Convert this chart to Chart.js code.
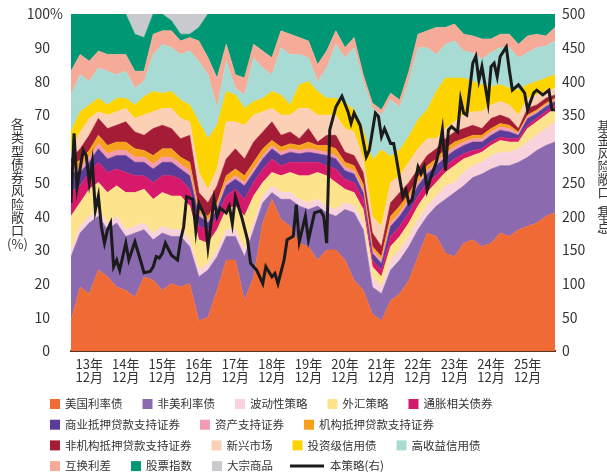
<!DOCTYPE html>
<html lang="zh">
<head>
<meta charset="UTF-8">
<title>各类型债券风险敞口</title>
<script src="https://cdn.jsdelivr.net/npm/chart.js"></script>
<style>
  html, body { margin: 0; padding: 0; background: #fff; }
  #wrap { width: 607px; height: 474px; position: relative; }
</style>
</head>
<body>
<div id="wrap"><canvas id="myChart"></canvas></div>
<script>
// months counted from Jan 2013 (= 0); bands are read every quarter
const areaMonths = [5,8,11,14,17,20,23,26,29,32,35,38,41,44,47,50,53,56,59,62,65,68,71,74,77,80,83,86,89,92,95,98,101,104,107,110,113,116,119,122,125,128,131,134,137,140,143,146,149,152,155,158,161,164];

// upper edge of every band, cumulative % (bottom band first)
const usRatesTop = [9,19,17,24,22,19,18,16,22,21, 18,20,19,20,9,10,18,27,27,15, 22,38,45,39,37,32,31,27,30,30, 27,21,18,11,9,15,17,21,28,35, 34,29,28,32,33,31,32,35,34,36, 37,38,40,41];
const nonUsRatesTop = [28,35,38,40,36,38,34,35,36,33, 35,34,34,31,22,24,28,34,34,28, 36,44,47,45,45,43,42,43,41,40, 42,41,36,19,17,24,27,31,36,40, 43,45,47,49,51.5,52.5,54,55,55,56, 57.5,59.5,61,62];
const volatilityTop = [30,37,40,42,38,40,36,37,38,35, 37,36,36,33,24,26,30,36,36,30, 38,46,49,47,47,45,44,45,43,42, 44,43,38,22,19,27,30,34,39,43, 46,49,50,53,55,56,58,59,59,60, 62,64,66,68];
const fxTop = [40,44,48,50,47,49,47,47,48,45, 47,46,46,43,33,32,36,42,43,40, 46,50,53,52,53,52,52,53,52,50, 48,47,42,25,22,31,34,38,43,47, 50,53,55,57,58,59,61,62.5,62,62, 66,68,70,72];
const inflationTop = [47,49,53,56,53,54,53,52,52,50, 52,52,51,48,37,36,40,46,48,45, 50,54,57,55,56,56,56,56,55,54, 51,50,45,27,24,34,37,41,46,50, 52,55,57,58.5,59.5,60,62,63.5,63,63, 67,69,71,73];
const cmbsTop = [53,53,56,60,57,58,58,56,56,54, 56,56,54,52,40,38,42,49,51,49, 53,57,60,58,59,58.5,59,58.5,58,57, 53.5,52.5,47,29,26,37,40,44,49,52.5, 55,57.5,59.5,61,62,62,64,65.5,65,64, 69,70.5,72.5,74];
const absTop = [54,54.5,57.5,61.5,58.5,59.5,59.5,57.5,57.5,55.5, 57.5,57.5,55.5,53.5,41,39,43,50,52,50, 54,58,61,59,60,59.5,60,59.5,59,58, 54.5,53.5,48,30,27,38,41,45,50,53.5, 56,58.5,60.5,62,63,63,65,66.5,66,64.5, 69.5,71,73,74.5];
const agencyMbsTop = [55.5,56.5,59.5,64,61,62,62,60,59.5,58, 60,60,57.5,56,42,40,44,52,54,52, 56,60,62.5,60.5,61.5,61,62,61,61,60, 56,55,49.5,31,28,40,43,46.5,51.5,55, 57,60,62,63,64,64,66,67.5,67,65, 70,71.5,73.5,75];
const nonAgencyMbsTop = [57,60,64,69,66,67,68,65,64,66, 67,66,63,64,47,44,49,57,60,57, 62,65,68,64,65,63,66,62,64,64, 59,58,53,35,31,44,47,50,54,58, 60,63,65,66,67,66,69,70,69,66, 72,73,75,76];
const emTop = [59,65,69,71,70,71,72,69,70,71, 72,72,69,68,53,48,54,68,68,67, 70,71,72,70,70,72,72,70,70,70, 66,65,57,40,37,50,52,56,60,63, 63,66,68,70,71,71,73,74,73,70, 75,76,77,78];
const igCreditTop = [65,71,73,75,73,75,75,73,75.5,77, 76.5,77,74.5,73,68,63,67,77,76,72, 74,75,77,76,73,79,80,77,75,75, 73.5,71.6,65.6,56.7,59.7,57.7,59.7,63.7,68.6,71.6, 77,81,81,81,80,79,78.5,79,78,77.5, 79,80,81,82];
const hyCreditTop = [76,82,80,84,83,82,83,78,80,88, 91,90,88,89,86,82,72,86,78,76, 87,84,82,90,88,88,87,80,84,91, 87,90,80,72,70,74.5,72.5,80,90,90, 88,91,92,89,88.5,86.6,88.6,90,90,87, 88.5,90,90.5,92];
const swapSpreadTop = [83,88,86,89,88,88,88,83,83,94, 95,95,92,93,92,87,81,91,82,81, 91,89,87,95,94,93,92,85,89,95, 90,93,82,73.6,71.5,76.5,74.5,83,94,95, 96,96,97,94,93.5,92.6,92.6,94,94,91, 93.5,94,93.5,96];
const equityTop = [100,100,100,100,100,100,100,94,93,100, 100,98,94,94,96,100,100,100,100,100, 100,100,100,100,100,100,100,100,100,100, 100,100,100,100,100,100,100,100,100,100, 100,100,100,100,100,100,100,100,100,100, 100,100,100,100];
const commodityTop = [100,100,100,100,100,100,100,100,100,100, 100,100,100,100,100,100,100,100,100,100, 100,100,100,100,100,100,100,100,100,100, 100,100,100,100,100,100,100,100,100,100, 100,100,100,100,100,100,100,100,100,100, 100,100,100,100];

// 本策略 risk exposure (bp, right axis)
const strategyMonths = [5,6,7,9,10,11,12,13,14,15, 16,17,18,19,20,21,23,24,26,28, 29,31,32,33,34,35,36,38,40,41, 42,43,45,46,47,49,50,52,53,54, 56,57,58,59,61,63,64,66,68,69, 71,72,73,75,76,78,79,80,82,83, 85,87,88,89,90,92,94,96,97,98, 100,102,103,105,106,107,108,110,111,112, 114,115,116,117,119,120,121,122,123,125, 126,127,128,129,130,132,133,134,135,137, 138,139,140,142,143,144,145,146,148,149, 150,152,154,155,157,158,160,162,163,164];
const strategyBp = [220,323,243,298,290,250,280,209,230,184, 160,180,190,125,135,120,160,135,162,132, 116,118,125,140,138,145,160,142,135,165, 184,229,225,179,219,200,154,225,200,212, 205,215,189,229,200,165,130,120,100,125, 110,115,100,135,165,170,217,162,200,165, 205,208,200,160,328,362,378,355,338,353, 335,288,298,353,348,318,330,308,308,283, 229,239,219,224,273,263,273,239,255,280, 300,328,268,328,333,325,373,353,350,427, 437,402,422,368,422,427,407,437,451,417, 387,395,383,358,383,387,380,387,358,358];

const tickMonths = [11,23,35,47,59,71,83,95,107,119,131,143,155];
const tickYears = ['13年','14年','15年','16年','17年','18年','19年','20年','21年','22年','23年','24年','25年'];
const tickMonthLabel = '12月';

const seriesNames = ['美国利率债','非美利率债','波动性策略','外汇策略','通胀相关债券','商业抵押贷款支持证券','资产支持证券','机构抵押贷款支持证券','非机构抵押贷款支持证券','新兴市场','投资级信用债','高收益信用债','互换利差','股票指数','大宗商品'];
const seriesColors = ['#f06a35','#8b6aaf','#f8d3de','#fee38d','#d6196a','#5c3c99','#f29bb2','#f6a21e','#a51c36','#fbd0b5','#fdd400','#a8dbd4','#f5ab98','#009874','#c9cacd'];
const seriesTops = [usRatesTop, nonUsRatesTop, volatilityTop, fxTop, inflationTop, cmbsTop, absTop, agencyMbsTop, nonAgencyMbsTop, emTop, igCreditTop, hyCreditTop, swapSpreadTop, equityTop, commodityTop];
const lineName = '本策略(右)';

const leftTitle = ['各','类','型','债','券','风','险','敞','口'];
const rightTitle = ['基','金','风','险','敞','口','︵','基','点','︶'];
const legendRows = [[0,1,2,3,4],[5,6,7],[8,9,10,11],[12,13,14,15]];

const FONT = '"Noto Sans CJK SC", "Noto Sans", sans-serif';

const datasets = seriesTops.map(function (tops, k) {
    return {
        label: seriesNames[k],
        data: areaMonths.map(function (m, i) { return {x: m, y: tops[i]}; }),
        yAxisID: 'y',
        backgroundColor: seriesColors[k],
        borderColor: seriesColors[k],
        borderWidth: 0.6,
        pointRadius: 0,
        tension: 0,
        fill: k === 0 ? 'origin' : '-1',
        order: 1
    };
});
datasets.push({
    label: lineName,
    data: strategyMonths.map(function (m, i) { return {x: m, y: strategyBp[i]}; }),
    yAxisID: 'y1',
    borderColor: '#1b1b1b',
    backgroundColor: '#1b1b1b',
    borderWidth: 3,
    pointRadius: 0,
    tension: 0,
    fill: false,
    order: -1
});

// vertical titles, the % after 100 and the legend
const extras = {
    id: 'extras',
    afterDraw: function (chart) {
        const ctx = chart.ctx;
        const yL = chart.scales.y;
        ctx.save();
        ctx.fillStyle = '#333';
        ctx.font = '14px ' + FONT;
        ctx.textAlign = 'left';
        ctx.textBaseline = 'middle';
        ctx.fillText('%', 50, yL.getPixelForValue(100));

        ctx.font = '13px ' + FONT;
        ctx.textAlign = 'center';
        let y = 124;
        leftTitle.forEach(function (ch) { ctx.fillText(ch, 17.5, y); y += 13.3; });
        ctx.fillText('(%)', 17.5, y);

        y = 126;
        rightTitle.forEach(function (ch) {
            const small = ch === '︵' || ch === '︶';
            if (small) y -= 3;
            ctx.fillText(ch, 604, y);
            y += small ? 10 : 13.3;
        });

        // legend
        ctx.font = '11.5px ' + FONT;
        ctx.textAlign = 'left';
        legendRows.forEach(function (row, r) {
            let x = 50;
            const cy = 404 + r * 20.7;
            row.forEach(function (idx) {
                let name;
                if (idx < seriesNames.length) {
                    ctx.fillStyle = seriesColors[idx];
                    ctx.fillRect(x, cy - 5, 10, 10);
                    x += 15;
                    name = seriesNames[idx];
                } else {
                    ctx.strokeStyle = '#1b1b1b';
                    ctx.lineWidth = 3;
                    ctx.beginPath();
                    ctx.moveTo(x - 3, cy);
                    ctx.lineTo(x + 31, cy);
                    ctx.stroke();
                    x += 37;
                    name = lineName;
                }
                ctx.fillStyle = '#333';
                ctx.fillText(name, x, cy);
                x += ctx.measureText(name).width + 20;
            });
        });
        ctx.restore();
    }
};

const ctx = document.getElementById('myChart').getContext('2d');
const myChart = new Chart(ctx, {
    type: 'line',
    data: { datasets: datasets },
    plugins: [extras],
    options: {
        responsive: true,
        maintainAspectRatio: false,
        animation: false,
        events: [],
        layout: { padding: { top: 14, left: 0, right: 0, bottom: 0 } },
        plugins: {
            legend: { display: false },
            tooltip: { enabled: false },
            filler: { propagate: false }
        },
        scales: {
            x: {
                type: 'linear',
                min: 5,
                max: 164,
                afterBuildTicks: function (scale) {
                    scale.ticks = tickMonths.map(function (v) { return {value: v}; });
                },
                afterFit: function (scale) { scale.height = 123; },
                grid: { display: false, drawTicks: false },
                border: { display: true, color: '#5a3325', width: 2 },
                ticks: {
                    autoSkip: false,
                    maxRotation: 0,
                    padding: 6,
                    color: '#333',
                    font: { family: FONT, size: 13, lineHeight: 1.05 },
                    callback: function (v) {
                        const i = tickMonths.indexOf(v);
                        return i < 0 ? '' : [tickYears[i], tickMonthLabel];
                    }
                }
            },
            y: {
                position: 'left',
                min: 0,
                max: 100,
                afterFit: function (scale) { scale.width = 71; },
                grid: { display: false, drawTicks: true, tickLength: 19 },
                border: { display: false },
                ticks: {
                    stepSize: 10,
                    padding: 2,
                    color: '#333',
                    font: { family: FONT, size: 14 },
                    callback: function (v) { return String(v); }
                }
            },
            y1: {
                position: 'right',
                min: 0,
                max: 500,
                afterFit: function (scale) { scale.width = 52; },
                grid: { display: false, drawTicks: true, tickLength: 5 },
                border: { display: false },
                ticks: {
                    stepSize: 50,
                    padding: 2,
                    color: '#333',
                    font: { family: FONT, size: 14 }
                }
            }
        }
    }
});
</script>
</body>
</html>
